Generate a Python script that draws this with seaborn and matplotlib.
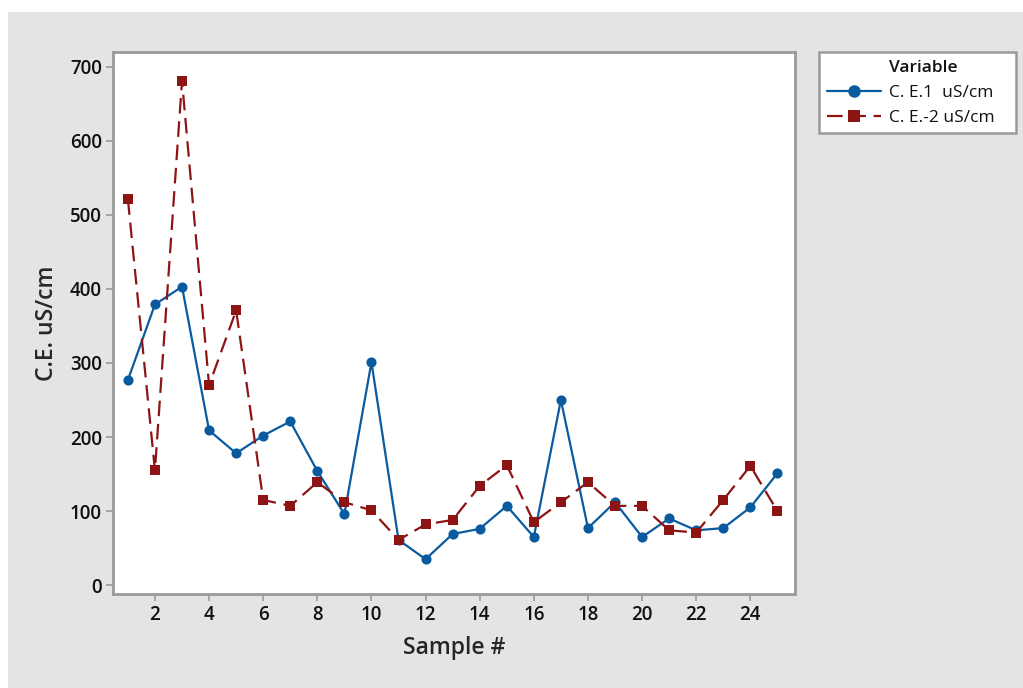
import pandas as pd
import matplotlib
matplotlib.use("Agg")
import matplotlib.pyplot as plt
import seaborn as sns
from matplotlib.patches import Rectangle
from matplotlib.lines import Line2D

# Data
sample = list(range(1, 26))
ce1 = [277, 379, 403, 209, 178, 202, 221, 154, 96, 301, 61, 35, 69, 76, 107,
       65, 250, 77, 112, 65, 90, 74, 77, 105, 151]
ce2 = [521, 155, 681, 270, 371, 115, 107, 139, 112, 101, 61, 82, 88, 134, 162,
       85, 112, 139, 107, 107, 74, 71, 115, 161, 100]
name1 = "C. E.1  uS/cm"
name2 = "C. E.-2 uS/cm"
x_ticks = list(range(2, 25, 2))
y_ticks = list(range(0, 701, 100))

df = pd.DataFrame({"Sample #": sample, name1: ce1, name2: ce2})
long = df.melt(id_vars="Sample #", var_name="Variable", value_name="C.E. uS/cm")

sns.set_theme(style="white")
plt.rcParams['font.family'] = ['Open Sans', 'DejaVu Sans']

BG = "#e4e4e4"
SPINE = "#9a9a9a"
fig = plt.figure(figsize=(10.23, 6.88), dpi=100, facecolor="white")
# grey panel, leaving thin white strips on top and left like the original
fig.patches.append(Rectangle((8 / 1023, 0), 1 - 8 / 1023, 1 - 12 / 688,
                             transform=fig.transFigure, facecolor=BG,
                             edgecolor="none", zorder=-10))
ax = fig.add_axes([113 / 1023, 1 - 594 / 688, (795 - 113) / 1023, (594 - 52) / 688])
ax.set_facecolor("white")

palette = {name1: "#0a5a9f", name2: "#8e1414"}
sns.lineplot(data=long, x="Sample #", y="C.E. uS/cm", hue="Variable",
             style="Variable", palette=palette,
             markers={name1: "o", name2: "s"},
             dashes={name1: "", name2: (7, 3.5)},
             markersize=7.3, markeredgewidth=0, linewidth=1.6, ax=ax)

ax.set_xlim(0.45, 25.65)
ax.set_ylim(-12, 720)
ax.set_xticks(x_ticks)
ax.set_yticks(y_ticks)
for s in ax.spines.values():
    s.set_visible(True)
    s.set_color(SPINE)
    s.set_linewidth(2)
ax.tick_params(axis="both", which="major", direction="out", length=5,
               width=1.2, color=SPINE, labelsize=13.5, labelcolor="#111111",
               bottom=True, left=True, pad=3)
for lab in ax.get_xticklabels() + ax.get_yticklabels():
    lab.set_fontweight("semibold")
ax.set_xlabel("Sample #", fontsize=16.5, fontweight="semibold", labelpad=8)
ax.set_ylabel("C.E. uS/cm", fontsize=16.5, fontweight="semibold", labelpad=8)

ax.get_legend().remove()
handles, labels = ax.get_legend_handles_labels()
for h in handles:
    h.set_markersize(9)
# title row as a blank entry so "Variable" lines up with the labels
blank = Line2D([], [], linestyle="none", marker=None)
leg = fig.legend([blank] + handles, ["Variable"] + labels, loc="upper left",
                 bbox_to_anchor=(819 / 1023, 1 - 134 / 688, 197 / 1023, 82 / 688),
                 mode="expand", frameon=True, fancybox=False, fontsize=12.5,
                 handlelength=3.1, borderpad=0.45, labelspacing=0.5,
                 handletextpad=0.5, borderaxespad=0)
leg.get_frame().set_edgecolor(SPINE)
leg.get_frame().set_linewidth(1.8)
leg.get_frame().set_facecolor("white")
leg.get_frame().set_alpha(1)
for t in leg.get_texts():
    t.set_color("#111111")
leg.get_texts()[0].set_fontweight("semibold")

fig.savefig("out.png", dpi=100, facecolor=fig.get_facecolor())
